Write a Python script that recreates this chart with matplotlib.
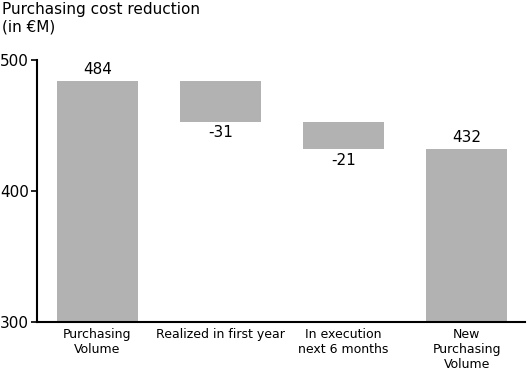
import matplotlib.pyplot as plt
import numpy as np

categories = ["Purchasing\nVolume", "Realized in first year",
              "In execution\nnext 6 months", "New\nPurchasing\nVolume"]
changes = [484, -31, -21]
total = 432

# waterfall: start at 300 axis floor
bottoms = []
heights = []
level = 0
for i, v in enumerate(changes):
    if i == 0:
        bottoms.append(300)
        heights.append(v - 300)
        level = v
    else:
        bottoms.append(level + v)
        heights.append(-v)
        level += v
bottoms.append(300)
heights.append(total - 300)
labels = ["484", "-31", "-21", "432"]

fig = plt.figure(figsize=(5.3, 3.7), dpi=100)
ax = fig.add_axes([0.0698, 0.1297, 0.92, 0.7083])
x = np.arange(len(categories))
ax.bar(x, heights, bottom=bottoms, width=0.656, color="#b2b2b2")

for i in range(len(categories)):
    top = bottoms[i] + heights[i]
    if i in (1, 2):
        ax.text(x[i], bottoms[i] - 3, labels[i], ha="center", va="top", fontsize=11)
    else:
        ax.text(x[i], top + 3, labels[i], ha="center", va="bottom", fontsize=11)

ax.set_xlim(-0.49, 3.47)
ax.set_ylim(300, 500)
ax.set_yticks([300, 400, 500])
ax.set_xticks(x)
ax.set_xticklabels(categories, fontsize=9)
ax.tick_params(axis="x", length=0, pad=4)
ax.tick_params(axis="y", length=4, width=1.2, labelsize=11, pad=2)
for s in ["top", "right"]:
    ax.spines[s].set_visible(False)
ax.spines["left"].set_linewidth(1.5)
ax.spines["bottom"].set_linewidth(1.5)

fig.text(0.004, 0.995, "Purchasing cost reduction\n(in €M)", ha="left", va="top",
         fontsize=11, linespacing=1.2)

plt.savefig("out.png", dpi=100)
